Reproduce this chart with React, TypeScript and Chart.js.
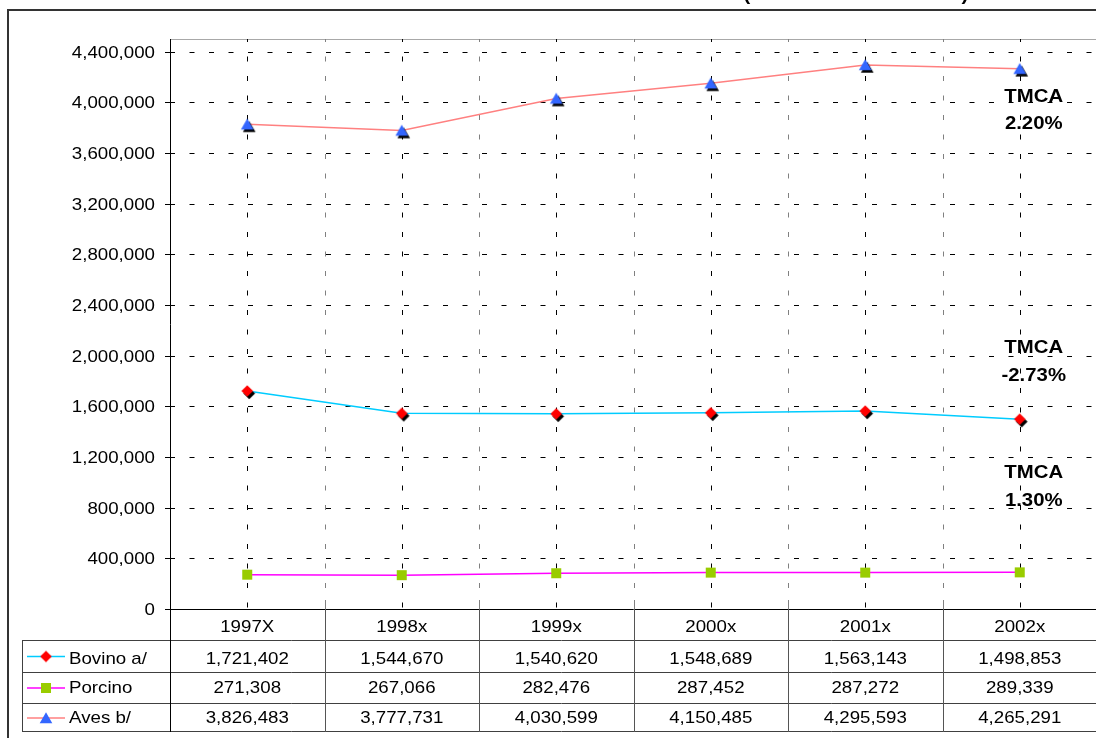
import React, { useEffect, useRef } from 'react';
import { Chart, registerables } from 'chart.js';

Chart.register(...registerables);

const CATEGORIES = ['1997X', '1998x', '1999x', '2000x', '2001x', '2002x'];
const BOVINO = [1721402, 1544670, 1540620, 1548689, 1563143, 1498853];
const PORCINO = [271308, 267066, 282476, 287452, 287272, 289339];
const AVES = [3826483, 3777731, 4030599, 4150485, 4295593, 4265291];
const SERIES_NAMES = ['Bovino a/', 'Porcino', 'Aves b/'];
const Y_TICKS = [0, 400000, 800000, 1200000, 1600000, 2000000, 2400000, 2800000, 3200000, 3600000, 4000000, 4400000];
const Y_MAX = 4500000;
const TMCA_LABELS = [
  ['TMCA', '2.20%'],
  ['TMCA', '-2.73%'],
  ['TMCA', '1.30%'],
];
const TITLE_UNIT = 'TONELADAS';

const FONT = '"Liberation Sans", Arial, Helvetica, sans-serif';
const SX = 1.1;
const CANVAS_W = 1100;
const CANVAS_H = 738;

const COLORS = {
  bovinoLine: '#00ccff',
  bovinoMarker: '#ff0000',
  porcinoLine: '#ff00ff',
  porcinoMarker: '#99cc00',
  avesLine: '#ff8080',
  avesMarker: '#3366ff',
};

type Kind = 'tri' | 'dia' | 'sq';

function makeMarker(kind: Kind, fill: string, shadow: boolean): HTMLCanvasElement {
  const c = document.createElement('canvas');
  c.width = 26;
  c.height = 26;
  const ctx = c.getContext('2d')!;
  const cx = 13;
  const cy = 13;
  const path = (dx: number, dy: number) => {
    ctx.beginPath();
    if (kind === 'tri') {
      ctx.moveTo(cx + dx, cy - 5.8 + dy);
      ctx.lineTo(cx + 6.3 + dx, cy + 5.3 + dy);
      ctx.lineTo(cx - 6.3 + dx, cy + 5.3 + dy);
    } else if (kind === 'dia') {
      ctx.moveTo(cx + dx, cy - 5.8 + dy);
      ctx.lineTo(cx + 5.8 + dx, cy + dy);
      ctx.lineTo(cx + dx, cy + 5.8 + dy);
      ctx.lineTo(cx - 5.8 + dx, cy + dy);
    } else {
      ctx.rect(cx - 5 + dx, cy - 5 + dy, 10, 10);
    }
    ctx.closePath();
  };
  if (shadow) {
    ctx.fillStyle = '#000';
    path(2, 2.5);
    ctx.fill();
  }
  ctx.fillStyle = fill;
  path(0, 0);
  ctx.fill();
  return c;
}

function drawText(ctx: CanvasRenderingContext2D, s: string, x: number, y: number, align: CanvasTextAlign, font: string) {
  ctx.save();
  ctx.font = font;
  ctx.fillStyle = '#000';
  ctx.textBaseline = 'alphabetic';
  ctx.translate(x, y);
  ctx.scale(SX, 1);
  ctx.textAlign = align;
  ctx.fillText(s, 0, 0);
  ctx.restore();
}

function seg(ctx: CanvasRenderingContext2D, x1: number, y1: number, x2: number, y2: number) {
  ctx.beginPath();
  ctx.moveTo(x1, y1);
  ctx.lineTo(x2, y2);
  ctx.stroke();
}

export default function App() {
  const ref = useRef<HTMLCanvasElement | null>(null);

  useEffect(() => {
    const canvas = ref.current;
    if (!canvas) return;

    const bovinoImg = makeMarker('dia', COLORS.bovinoMarker, true);
    const porcinoImg = makeMarker('sq', COLORS.porcinoMarker, false);
    const avesImg = makeMarker('tri', COLORS.avesMarker, true);
    const legendImgs = [
      makeMarker('dia', COLORS.bovinoMarker, false),
      makeMarker('sq', COLORS.porcinoMarker, false),
      makeMarker('tri', COLORS.avesMarker, false),
    ];
    const legendLines = [COLORS.bovinoLine, COLORS.porcinoLine, COLORS.avesLine];
    const tableValues = [BOVINO, PORCINO, AVES];

    const framePlugin = {
      id: 'frame',
      beforeDatasetsDraw(chart: any) {
        const { ctx, chartArea: a, scales } = chart;
        const x = scales.x;
        const y = scales.y;
        ctx.save();
        // outer frame
        ctx.strokeStyle = '#333';
        ctx.lineWidth = 2;
        ctx.strokeRect(8, 10, 3000, 3000);
        ctx.lineWidth = 1;
        // plot top border
        ctx.strokeStyle = '#a8a8a8';
        seg(ctx, a.left, a.top + 0.5, a.right, a.top + 0.5);
        // horizontal grid
        ctx.strokeStyle = '#000';
        ctx.setLineDash([5, 14.5]);
        Y_TICKS.forEach((v) => {
          if (v === 0) return;
          const py = Math.round(y.getPixelForValue(v)) + 0.5;
          seg(ctx, a.left, py, a.right, py);
        });
        // vertical grid at categories
        CATEGORIES.forEach((_, i) => {
          const px = Math.round(x.getPixelForValue(i)) + 0.5;
          ctx.lineDashOffset = 2;
          seg(ctx, px, a.top, px, a.bottom);
        });
        // vertical grid at boundaries
        const band = x.getPixelForValue(1) - x.getPixelForValue(0);
        ctx.strokeStyle = '#808080';
        for (let i = 1; i < CATEGORIES.length; i++) {
          const px = Math.round(x.getPixelForValue(i) - band / 2) + 0.5;
          seg(ctx, px, a.top, px, a.bottom);
        }
        ctx.setLineDash([]);
        ctx.lineDashOffset = 0;
        // boundary tick marks
        for (let i = 1; i < CATEGORIES.length; i++) {
          const px = Math.round(x.getPixelForValue(i) - band / 2) + 0.5;
          seg(ctx, px, a.bottom - 9, px, a.bottom);
        }
        // axes
        ctx.strokeStyle = '#000';
        seg(ctx, a.left + 0.5, a.top, a.left + 0.5, a.bottom + 1);
        const by = Math.round(a.bottom) + 0.5;
        seg(ctx, a.left, by, a.right, by);
        // y tick marks
        Y_TICKS.forEach((v) => {
          const py = Math.round(y.getPixelForValue(v)) + 0.5;
          seg(ctx, a.left - 5, py, a.left + 4, py);
        });
        ctx.restore();
      },
      afterDraw(chart: any) {
        const { ctx, chartArea: a, scales } = chart;
        const x = scales.x;
        const y = scales.y;
        const regular = `17px ${FONT}`;
        const bold = `bold 18.5px ${FONT}`;
        ctx.save();
        // title fragments (cut off at the top)
        drawText(ctx, '(', 747, 0, 'center', bold);
        drawText(ctx, TITLE_UNIT, 856, 0, 'center', bold);
        drawText(ctx, ')', 965, 0, 'center', bold);
        // y tick labels
        Y_TICKS.forEach((v) => {
          const py = y.getPixelForValue(v);
          drawText(ctx, v.toLocaleString('en-US'), a.left - 15, py + 6, 'right', regular);
        });
        // data table
        const band = x.getPixelForValue(1) - x.getPixelForValue(0);
        const top = Math.round(a.bottom);
        const rowLines = [top + 31, top + 63, top + 94, top + 122];
        const tableLeft = 22;
        const tableRight = 3000;
        ctx.lineWidth = 1;
        ctx.strokeStyle = '#404040';
        rowLines.forEach((ry) => seg(ctx, tableLeft, ry + 0.5, tableRight, ry + 0.5));
        seg(ctx, tableLeft + 0.5, rowLines[0], tableLeft + 0.5, rowLines[3] + 1);
        ctx.strokeStyle = '#000';
        seg(ctx, a.left + 0.5, top, a.left + 0.5, rowLines[3] + 1);
        ctx.strokeStyle = '#555';
        for (let i = 1; i <= CATEGORIES.length; i++) {
          const px = Math.round(x.getPixelForValue(i) - band / 2) + 0.5;
          seg(ctx, px, top, px, rowLines[3] + 1);
        }
        // header
        CATEGORIES.forEach((c, i) => {
          drawText(ctx, c, x.getPixelForValue(i), top + 23, 'center', regular);
        });
        // rows
        const baselines = [top + 55, top + 84, top + 114];
        const mids = [top + 47.5, top + 79, top + 109];
        SERIES_NAMES.forEach((name, r) => {
          ctx.strokeStyle = legendLines[r];
          ctx.lineWidth = 1.5;
          seg(ctx, 27, mids[r], 65, mids[r]);
          const img = legendImgs[r];
          ctx.drawImage(img, 46 - img.width / 2, mids[r] - img.height / 2);
          drawText(ctx, name, 69, baselines[r], 'left', regular);
          tableValues[r].forEach((v, i) => {
            drawText(ctx, v.toLocaleString('en-US'), x.getPixelForValue(i), baselines[r], 'center', regular);
          });
        });
        // TMCA annotations
        const tx = x.getPixelForValue(CATEGORIES.length - 1) + 14;
        const tmcaTops = [101.5, 353, 478];
        TMCA_LABELS.forEach((lines, k) => {
          lines.forEach((ln, j) => {
            drawText(ctx, ln, tx, tmcaTops[k] + j * 27.5, 'center', bold);
          });
        });
        ctx.restore();
      },
    };

    const chart = new Chart(canvas, {
      type: 'line',
      data: {
        labels: CATEGORIES,
        datasets: [
          {
            label: SERIES_NAMES[0],
            data: BOVINO,
            borderColor: COLORS.bovinoLine,
            borderWidth: 1.5,
            pointStyle: bovinoImg as any,
            pointRadius: 6,
            pointHoverRadius: 6,
            tension: 0,
            fill: false,
          },
          {
            label: SERIES_NAMES[1],
            data: PORCINO,
            borderColor: COLORS.porcinoLine,
            borderWidth: 1.5,
            pointStyle: porcinoImg as any,
            pointRadius: 6,
            pointHoverRadius: 6,
            tension: 0,
            fill: false,
          },
          {
            label: SERIES_NAMES[2],
            data: AVES,
            borderColor: COLORS.avesLine,
            borderWidth: 1.5,
            pointStyle: avesImg as any,
            pointRadius: 6,
            pointHoverRadius: 6,
            tension: 0,
            fill: false,
          },
        ],
      },
      options: {
        responsive: false,
        maintainAspectRatio: false,
        animation: false,
        events: [],
        layout: { autoPadding: false, padding: { left: 170, top: 39, right: 3, bottom: 129 } },
        plugins: {
          legend: { display: false },
          tooltip: { enabled: false },
          title: { display: false },
        },
        scales: {
          x: { display: false, offset: true },
          y: { display: false, min: 0, max: Y_MAX },
        },
      },
      plugins: [framePlugin],
    });

    return () => {
      chart.destroy();
    };
  }, []);

  return (
    <div style={{ position: 'fixed', left: 0, top: 0, width: 1096, height: 738, overflow: 'hidden', background: '#fff' }}>
      <div style={{ position: 'absolute', left: 0, top: 0, width: CANVAS_W, height: CANVAS_H }}>
        <canvas ref={ref} width={CANVAS_W} height={CANVAS_H} style={{ display: 'block', width: CANVAS_W, height: CANVAS_H }} />
      </div>
    </div>
  );
}
